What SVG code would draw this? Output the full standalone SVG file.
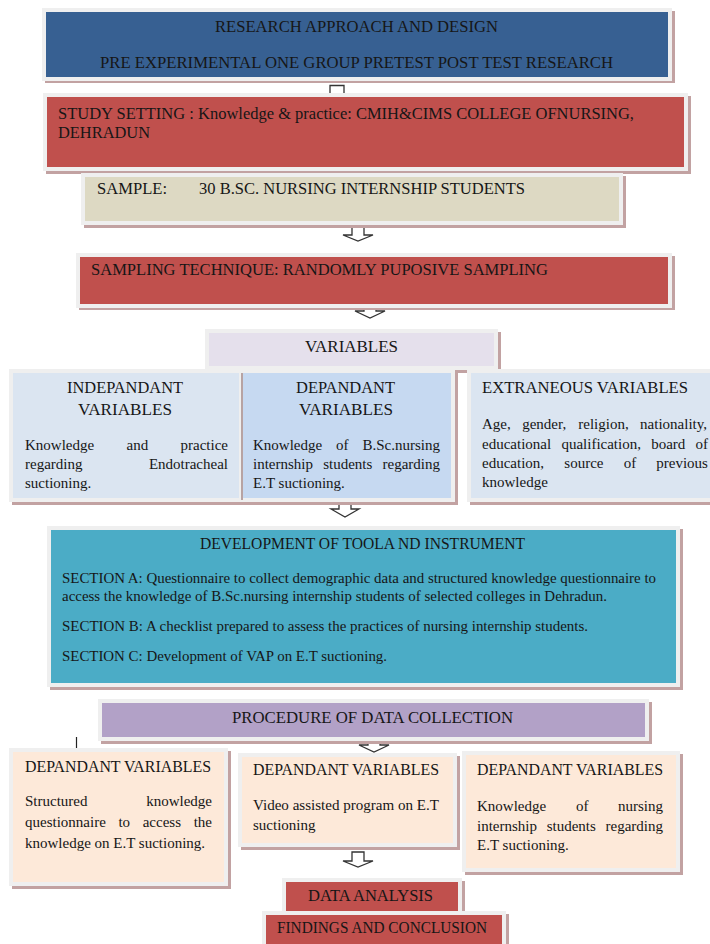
<svg xmlns="http://www.w3.org/2000/svg" width="710" height="944" viewBox="0 0 710 944">
<defs>
<style>
.sh{fill:#c2a2a2}
.fr{fill:#efefef}
.t{font-family:"Liberation Serif","Times New Roman",serif;fill:#161616}
.h{font-size:16px}
.b{font-size:15px}
.arr{fill:#ffffff;stroke:#333333;stroke-width:1.3;stroke-linejoin:miter}
.blue{fill:#376092}
.red{fill:#c0504d}
.beige{fill:#ddd9c3}
.lav{fill:#e5e0ec}
.lb{fill:#dbe5f1}
.db{fill:#c6d9f1}
.teal{fill:#4bacc6}
.pur{fill:#b2a1c7}
.peach{fill:#fde9d9}
</style>
</defs>
<rect width="710" height="944" fill="#ffffff"/>

<g id="connectors">
<path class="arr" d="M330,85.5 H344 V95 H353 L337,103 L321,95 H330 Z"/>
<path class="arr" d="M352,226 H364 V235 H373 L358,241 L343,235 H352 Z"/>
<path class="arr" d="M364,300 H376 V311 H385 L370,318 L355,311 H364 Z"/>
<path class="arr" d="M339,498 H351 V509 H359 L345,517 L331,509 H339 Z"/>
<path class="arr" d="M368,737 H380 V745 H389 L374,752 L359,745 H368 Z"/>
<path class="arr" d="M352,852 H364 V861 H373 L358,867 L343,861 H352 Z"/>
<line x1="76.5" y1="737" x2="76.5" y2="748" stroke="#222" stroke-width="1.2"/>
</g>

<g id="design">
<rect class="sh" x="45" y="11" width="630" height="72"/>
<rect class="fr" x="42" y="8" width="630" height="73"/>
<rect class="blue" x="46" y="12" width="622" height="65"/>
<text class="t h" x="215" y="32" textLength="283" lengthAdjust="spacingAndGlyphs">RESEARCH APPROACH AND DESIGN</text>
<text class="t h" x="100" y="68" textLength="513" lengthAdjust="spacingAndGlyphs">PRE EXPERIMENTAL ONE GROUP PRETEST POST TEST RESEARCH</text>
</g>

<g id="setting">
<rect class="sh" x="46" y="96" width="645" height="78"/>
<rect class="fr" x="43" y="93" width="645" height="78"/>
<rect class="red" x="47" y="97" width="637" height="70"/>
<text class="t h" x="58" y="119" textLength="576" lengthAdjust="spacingAndGlyphs">STUDY SETTING : Knowledge &amp; practice: CMIH&amp;CIMS COLLEGE OFNURSING,</text>
<text class="t h" x="58" y="138" textLength="92" lengthAdjust="spacingAndGlyphs">DEHRADUN</text>
</g>

<g id="sample">
<rect class="sh" x="84" y="176" width="542" height="52"/>
<rect class="fr" x="81" y="173" width="542" height="52"/>
<rect class="beige" x="85" y="177" width="534" height="44"/>
<text class="t h" x="97" y="194" textLength="70" lengthAdjust="spacingAndGlyphs">SAMPLE:</text>
<text class="t h" x="199" y="194" textLength="326" lengthAdjust="spacingAndGlyphs">30 B.SC. NURSING INTERNSHIP STUDENTS</text>
</g>

<g id="technique">
<rect class="sh" x="79" y="256" width="596" height="54"/>
<rect class="fr" x="76" y="253" width="596" height="55"/>
<rect class="red" x="80" y="257" width="588" height="47"/>
<text class="t h" x="91" y="275" textLength="457" lengthAdjust="spacingAndGlyphs">SAMPLING TECHNIQUE: RANDOMLY PUPOSIVE  SAMPLING</text>
</g>

<g id="variables">
<rect class="sh" x="208" y="332" width="293" height="41"/>
<rect class="fr" x="205" y="329" width="293" height="41"/>
<rect class="lav" x="209" y="333" width="285" height="33"/>
<text class="t h" x="305" y="352" textLength="93" lengthAdjust="spacingAndGlyphs">VARIABLES</text>
</g>

<g id="independent">
<rect class="sh" x="12" y="372" width="236" height="133"/>
<rect class="fr" x="9" y="369" width="236" height="133"/>
<rect class="lb" x="13" y="373" width="228" height="125"/>
<text class="t h" x="67" y="393" textLength="116" lengthAdjust="spacingAndGlyphs">INDEPANDANT</text>
<text class="t h" x="78" y="415" textLength="94" lengthAdjust="spacingAndGlyphs">VARIABLES</text>
<text class="t b" y="450"><tspan x="25">Knowledge</tspan><tspan x="126.5">and</tspan><tspan x="180.5">practice</tspan></text>
<text class="t b" y="469"><tspan x="25">regarding</tspan><tspan x="148.9">Endotracheal</tspan></text>
<text class="t b" x="25" y="488">suctioning.</text>
</g>

<g id="dependent">
<rect class="sh" x="242" y="372" width="216" height="133"/>
<rect class="fr" x="239" y="369" width="216" height="133"/>
<rect class="db" x="243" y="373" width="208" height="125"/>
<line x1="242" y1="373" x2="242" y2="500" stroke="#a58a8a" stroke-width="1.5"/>
<text class="t h" x="296" y="393" textLength="99" lengthAdjust="spacingAndGlyphs">DEPANDANT</text>
<text class="t h" x="299" y="415" textLength="94" lengthAdjust="spacingAndGlyphs">VARIABLES</text>
<text class="t b" y="450"><tspan x="253">Knowledge</tspan><tspan x="336">of</tspan><tspan x="362.5">B.Sc.nursing</tspan></text>
<text class="t b" y="469"><tspan x="253">internship</tspan><tspan x="323.2">students</tspan><tspan x="382.5">regarding</tspan></text>
<text class="t b" x="253" y="488">E.T suctioning.</text>
</g>

<g id="extraneous">
<rect class="sh" x="470" y="372" width="250" height="133"/>
<rect class="fr" x="467" y="369" width="250" height="133"/>
<rect class="lb" x="471" y="373" width="245" height="125"/>
<text class="t h" x="482" y="393" textLength="206" lengthAdjust="spacingAndGlyphs">EXTRANEOUS VARIABLES</text>
<text class="t b" y="429"><tspan x="482">Age,</tspan><tspan x="522.2">gender,</tspan><tspan x="578.3">religion,</tspan><tspan x="640.1">nationality,</tspan></text>
<text class="t b" y="449"><tspan x="482">educational</tspan><tspan x="561.4">qualification,</tspan><tspan x="651.2">board</tspan><tspan x="695.5">of</tspan></text>
<text class="t b" y="468"><tspan x="482">education,</tspan><tspan x="564.3">source</tspan><tspan x="623.7">of</tspan><tspan x="656.3">previous</tspan></text>
<text class="t b" x="482" y="487">knowledge</text>
</g>

<g id="instrument">
<rect class="sh" x="50" y="529" width="633" height="161"/>
<rect class="fr" x="47" y="526" width="633" height="161"/>
<rect class="teal" x="51" y="530" width="625" height="153"/>
<text class="t h" x="200" y="549" textLength="325" lengthAdjust="spacingAndGlyphs">DEVELOPMENT OF TOOLA ND INSTRUMENT</text>
<text class="t b" x="62" y="583" textLength="594" lengthAdjust="spacingAndGlyphs">SECTION A: Questionnaire to collect demographic data and structured knowledge questionnaire to</text>
<text class="t b" x="62" y="601" textLength="545" lengthAdjust="spacingAndGlyphs">access the knowledge of B.Sc.nursing internship students of selected colleges  in Dehradun.</text>
<text class="t b" x="62" y="631" textLength="526" lengthAdjust="spacingAndGlyphs">SECTION B: A checklist prepared to assess the practices of nursing internship students.</text>
<text class="t b" x="62" y="661" textLength="325" lengthAdjust="spacingAndGlyphs">SECTION C: Development of VAP on E.T suctioning.</text>
</g>

<g id="procedure">
<rect class="sh" x="101" y="702" width="551" height="42"/>
<rect class="fr" x="98" y="699" width="551" height="42"/>
<rect class="pur" x="102" y="703" width="543" height="34"/>
<text class="t h" x="232" y="723" textLength="281" lengthAdjust="spacingAndGlyphs">PROCEDURE OF DATA COLLECTION</text>
</g>

<g id="dv-questionnaire">
<rect class="sh" x="12" y="751" width="219" height="138"/>
<rect class="fr" x="9" y="748" width="219" height="138"/>
<rect class="peach" x="13" y="752" width="211" height="130"/>
<text class="t h" x="25" y="772" textLength="186" lengthAdjust="spacingAndGlyphs">DEPANDANT VARIABLES</text>
<text class="t b" y="806"><tspan x="25">Structured</tspan><tspan x="146.2">knowledge</tspan></text>
<text class="t b" y="827"><tspan x="25">questionnaire</tspan><tspan x="118.4">to</tspan><tspan x="142.7">access</tspan><tspan x="193.7">the</tspan></text>
<text class="t b" x="25" y="848">knowledge on E.T suctioning.</text>
</g>

<g id="dv-video">
<rect class="sh" x="241" y="756" width="219" height="94"/>
<rect class="fr" x="238" y="753" width="219" height="94"/>
<rect class="peach" x="242" y="757" width="211" height="86"/>
<text class="t h" x="253" y="775" textLength="186" lengthAdjust="spacingAndGlyphs">DEPANDANT VARIABLES</text>
<text class="t b" x="253" y="810" textLength="186" lengthAdjust="spacingAndGlyphs">Video assisted program on E.T</text>
<text class="t b" x="253" y="830">suctioning</text>
</g>

<g id="dv-knowledge">
<rect class="sh" x="465" y="754" width="218" height="121"/>
<rect class="fr" x="462" y="751" width="218" height="121"/>
<rect class="peach" x="466" y="755" width="210" height="113"/>
<text class="t h" x="477" y="775" textLength="186" lengthAdjust="spacingAndGlyphs">DEPANDANT VARIABLES</text>
<text class="t b" y="811"><tspan x="477">Knowledge</tspan><tspan x="575.9">of</tspan><tspan x="618">nursing</tspan></text>
<text class="t b" y="831"><tspan x="477">internship</tspan><tspan x="546.7">students</tspan><tspan x="605.5">regarding</tspan></text>
<text class="t b" x="477" y="850">E.T suctioning.</text>
</g>

<g id="analysis">
<rect class="sh" x="285" y="881" width="180" height="37"/>
<rect class="fr" x="282" y="878" width="180" height="37"/>
<rect class="red" x="286" y="882" width="172" height="29"/>
<text class="t h" x="308" y="901" textLength="125" lengthAdjust="spacingAndGlyphs">DATA ANALYSIS</text>
</g>

<g id="findings">
<rect class="sh" x="265" y="914" width="244" height="40"/>
<rect class="fr" x="262" y="911" width="244" height="40"/>
<rect class="red" x="266" y="915" width="236" height="32"/>
<text class="t h" x="277" y="933" textLength="210" lengthAdjust="spacingAndGlyphs">FINDINGS AND CONCLUSION</text>
</g>
</svg>
